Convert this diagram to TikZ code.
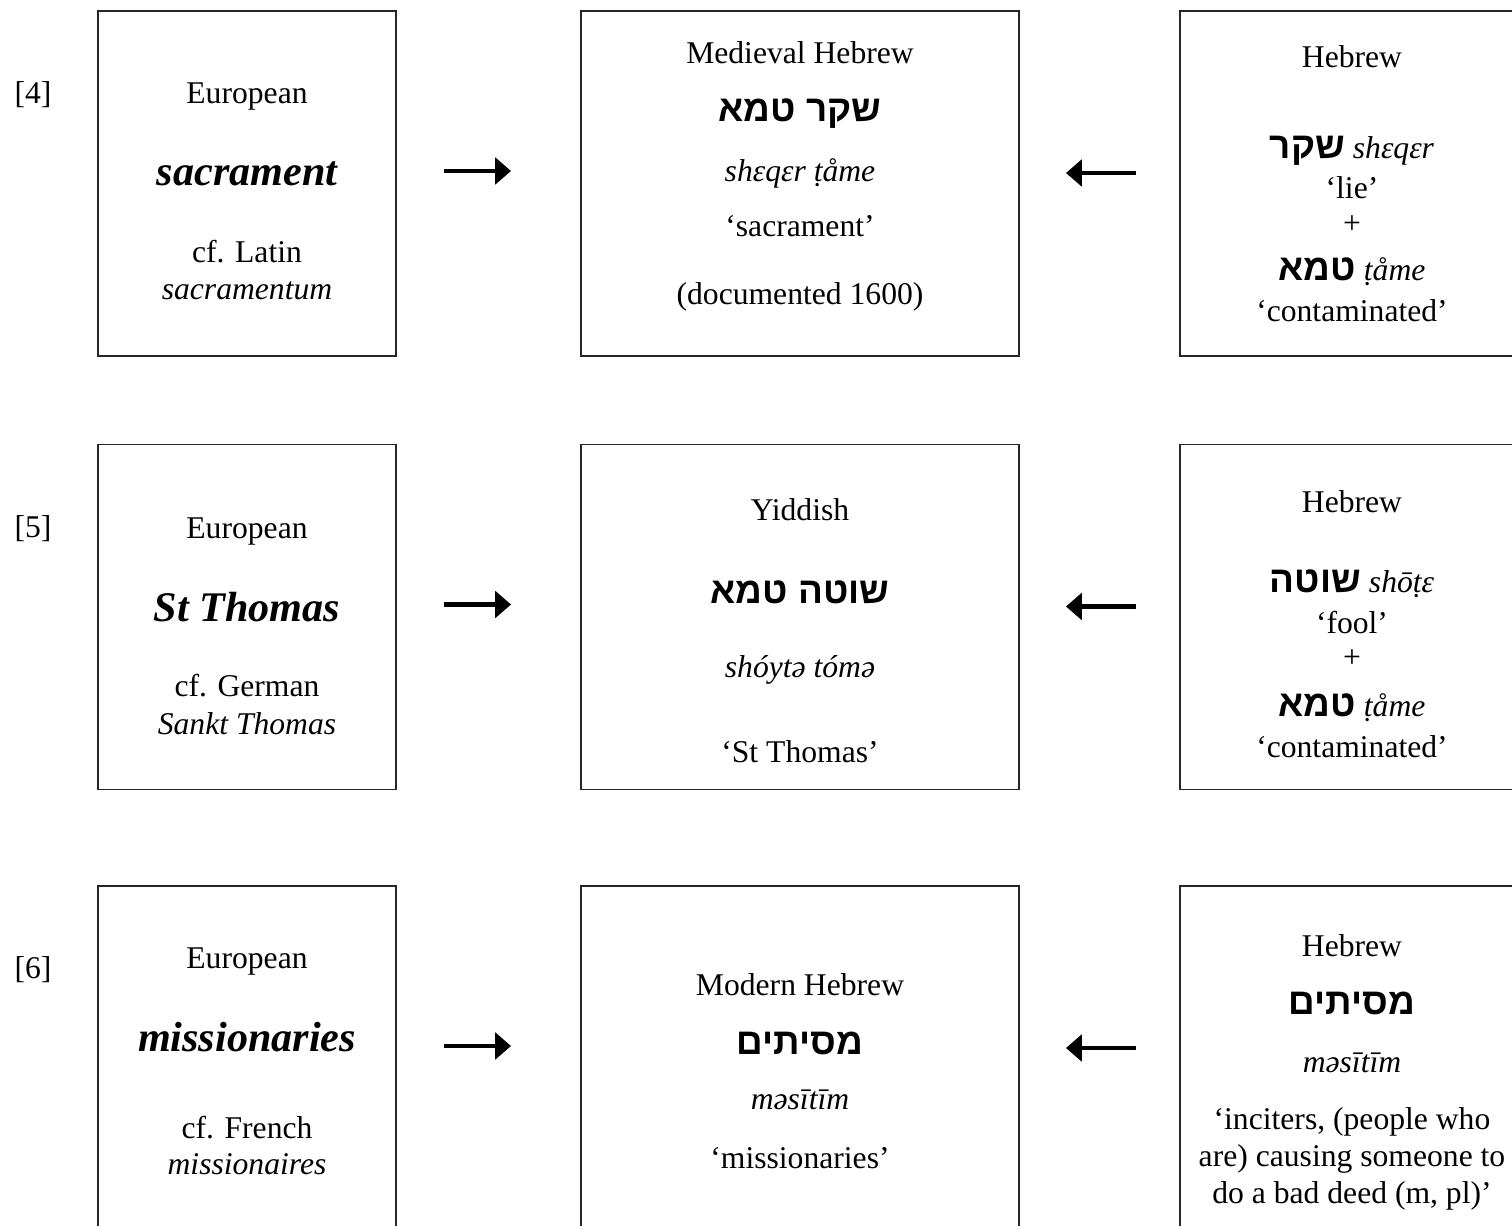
\documentclass[tikz,border=0pt]{standalone}
\usepackage{fontspec}
\usepackage{tikz}
\usetikzlibrary{arrows.meta}
\setmainfont{Liberation Serif}
\newfontfamily\hebfont[Script=Hebrew]{Liberation Sans}
\TeXXeTstate=1
\definecolor{boxcol}{rgb}{0.15,0.15,0.15}

\begin{document}
\begin{tikzpicture}[every node/.style={font=\fontsize{18}{22}\selectfont,inner sep=1pt},
    box/.style={draw=boxcol,line width=1.1pt,minimum height=6.9cm,inner sep=0pt},
    big/.style={font=\fontsize{24}{28}\selectfont\bfseries\itshape},
    tr/.style={font=\fontsize{18}{22}\selectfont\itshape},
    heb/.style={font=\fontsize{21}{24}\selectfont\hebfont\bfseries},
    arr/.style={line width=2.8pt,-{Triangle[length=9pt,width=15pt]}}]
  \useasboundingbox (0,0) rectangle (30.24,-24.52);
  \clip (0,0) rectangle (30.24,-24.52);
  % boxes, arrows and numbers of the three rows
  \foreach \r/\yc in {4/-3.67,5/-12.34,6/-21.17}{
    \node[box,minimum width=5.96cm] (eu\r) at (4.94,\yc) {};
    \node[box,minimum width=8.76cm] (mid\r) at (16.0,\yc) {};
    \node[box,minimum width=6.88cm] (heb\r) at (27.04,\yc) {};
    \node (num\r) at (0.66,\yc+1.77) {[\r]};
    \draw[arr] ([xshift=0.94cm,yshift=0.25cm]eu\r.east) -- ([xshift=-1.38cm,yshift=0.25cm]mid\r.west);
    \draw[arr] ([xshift=-0.86cm,yshift=0.21cm]heb\r.west) -- ([xshift=0.92cm,yshift=0.21cm]mid\r.east);
  }
  % row [4]
  \node (eu4a) at (4.94,-1.94) {European};
  \node[big] (eu4b) at (4.94,-3.48) {sacrament};
  \node (eu4c) at (4.94,-5.04) {cf. Latin};
  \node[tr] (eu4d) at (4.94,-5.82) {sacramentum};
  \node (mid4a) at (16.0,-1.06) {Medieval Hebrew};
  \node[heb] (mid4b) at (16.0,-2.28) {\beginR שקר טמא\endR};
  \node[tr] (mid4c) at (16.0,-3.46) {shɛqɛr ṭåme};
  \node (mid4d) at (16.0,-4.52) {‘sacrament’};
  \node (mid4e) at (16.0,-5.94) {(documented 1600)};
  \node (heb4a) at (27.04,-1.14) {Hebrew};
  \node (heb4b) at (27.04,-3.02) {{\hebfont\bfseries\fontsize{21}{24}\selectfont\beginR שקר\endR} \textit{shɛqɛr}};
  \node (heb4c) at (27.04,-3.76) {‘lie’};
  \node (heb4d) at (27.04,-4.50) {+};
  \node (heb4e) at (27.04,-5.44) {{\hebfont\bfseries\fontsize{21}{24}\selectfont\beginR טמא\endR} \textit{ṭåme}};
  \node (heb4f) at (27.04,-6.22) {‘contaminated’};
  % row [5]
  \node (eu5a) at (4.94,-10.64) {European};
  \node[big] (eu5b) at (4.94,-12.14) {St Thomas};
  \node (eu5c) at (4.94,-13.72) {cf. German};
  \node[tr] (eu5d) at (4.94,-14.48) {Sankt Thomas};
  \node (mid5a) at (16.0,-10.20) {Yiddish};
  \node[heb] (mid5b) at (16.0,-11.84) {\beginR שוטה טמא\endR};
  \node[tr] (mid5c) at (16.0,-13.40) {shóytə tómə};
  \node (mid5d) at (16.0,-15.04) {‘St Thomas’};
  \node (heb5a) at (27.04,-10.04) {Hebrew};
  \node (heb5b) at (27.04,-11.68) {{\hebfont\bfseries\fontsize{21}{24}\selectfont\beginR שוטה\endR} \textit{shōṭɛ}};
  \node (heb5c) at (27.04,-12.46) {‘fool’};
  \node (heb5d) at (27.04,-13.18) {+};
  \node (heb5e) at (27.04,-14.16) {{\hebfont\bfseries\fontsize{21}{24}\selectfont\beginR טמא\endR} \textit{ṭåme}};
  \node (heb5f) at (27.04,-14.94) {‘contaminated’};
  % row [6]
  \node (eu6a) at (4.94,-19.24) {European};
  \node[big] (eu6b) at (4.94,-20.74) {missionaries};
  \node (eu6c) at (4.94,-22.56) {cf. French};
  \node[tr] (eu6d) at (4.94,-23.28) {missionaires};
  \node (mid6a) at (16.0,-19.70) {Modern Hebrew};
  \node[heb] (mid6b) at (16.0,-20.86) {\beginR מסיתים\endR};
  \node[tr] (mid6c) at (16.0,-22.00) {məsītīm};
  \node (mid6d) at (16.0,-23.16) {‘missionaries’};
  \node (heb6a) at (27.04,-18.92) {Hebrew};
  \node[heb] (heb6b) at (27.04,-20.06) {\beginR מסיתים\endR};
  \node[tr] (heb6c) at (27.04,-21.26) {məsītīm};
  \node[align=center,font=\fontsize{18}{21}\selectfont] (heb6d) at (27.04,-23.18)
    {‘inciters, (people who\\ are) causing someone to\\ do a bad deed (m, pl)’};
\end{tikzpicture}
\end{document}
